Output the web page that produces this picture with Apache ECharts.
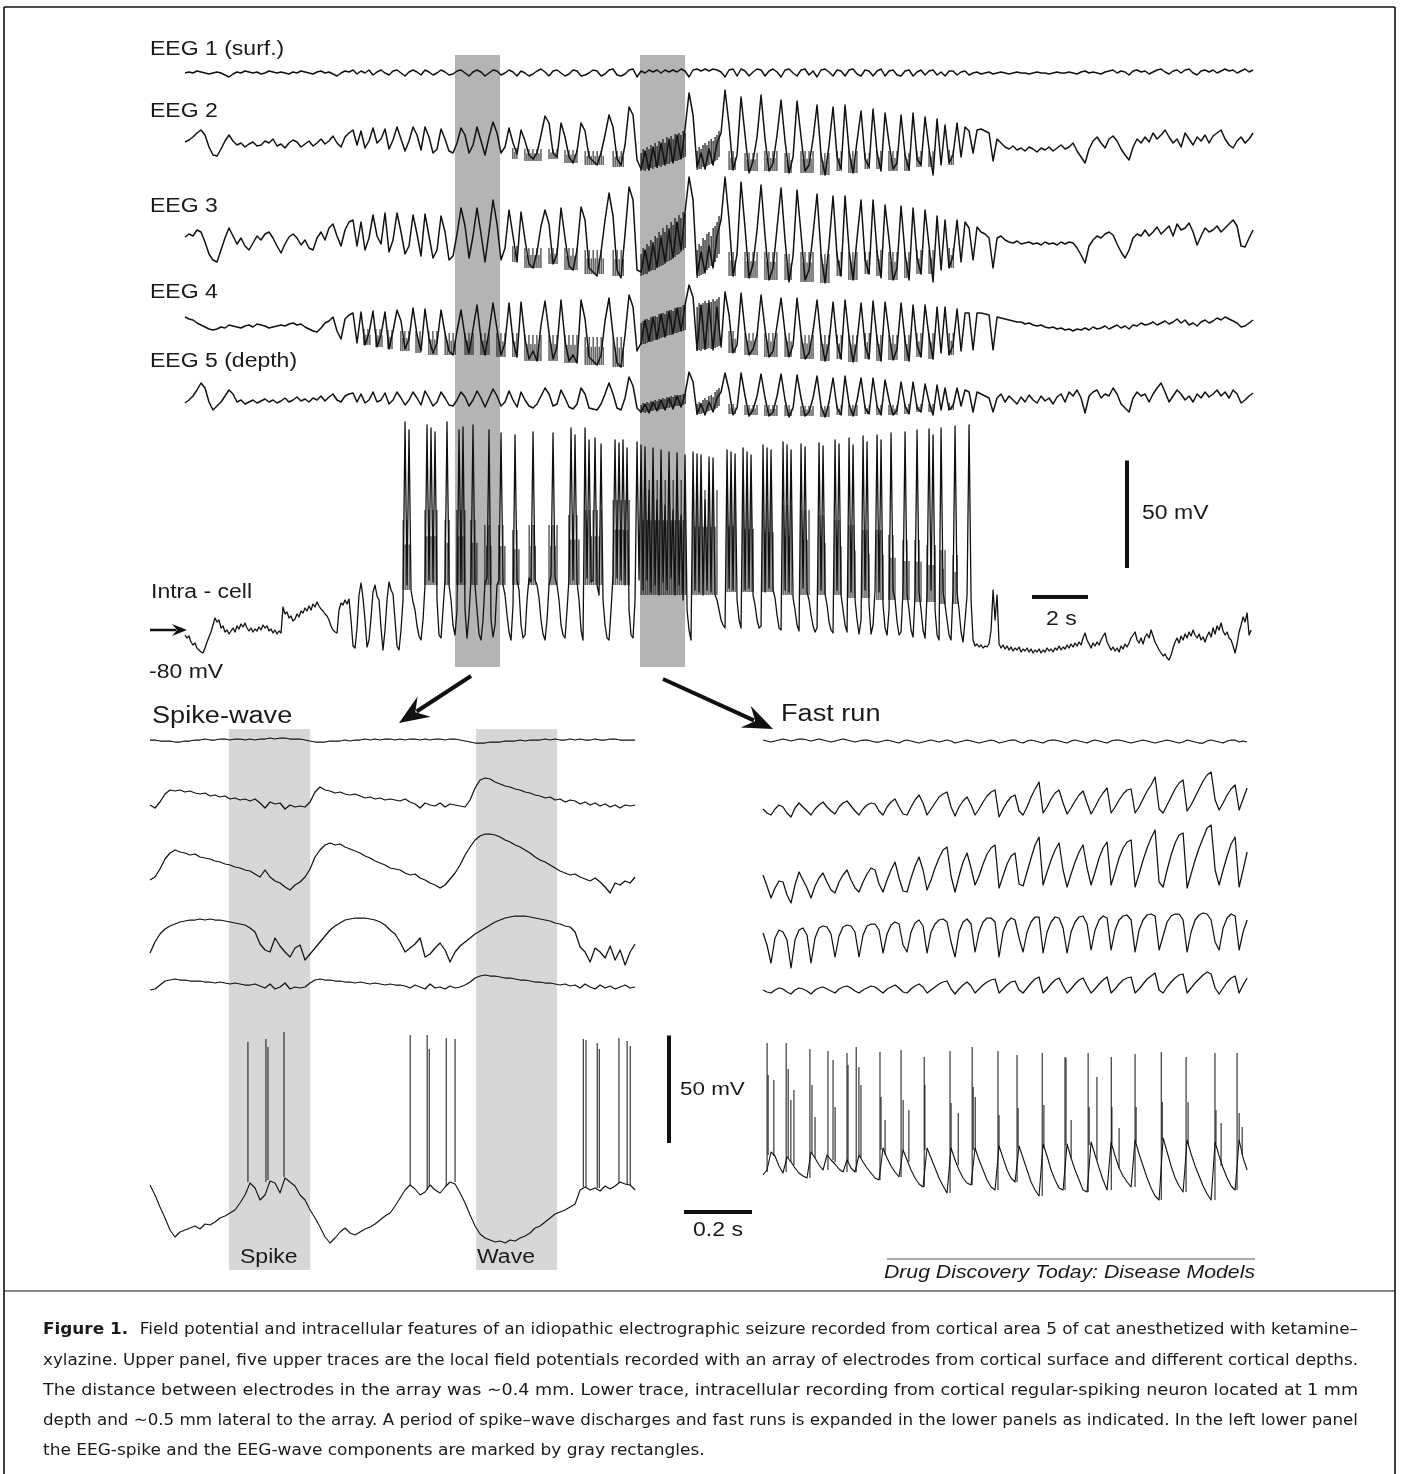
<!DOCTYPE html>
<html>
<head>
<meta charset="utf-8">
<title>Figure 1 – spike-wave and fast-run seizure</title>
<script src="https://cdn.jsdelivr.net/npm/echarts@6/dist/echarts.min.js"></script>
<style>
  html, body { margin: 0; padding: 0; background: #fff; }
  #chart { width: 1402px; height: 1474px; }
</style>
</head>
<body>
<div id="chart"></div>
<script>
// ---------- data ----------
// upper panel: EEG sampled every 1/7 s, intracellular every 1/14 s
const TOP_SPAN = 38.14;           // s across the upper panel
const TOP_EEG_DT = 1 / 7;
const TOP_IC_DT = 1 / 14;
const TOP_BANDS = [[9.64, 11.25], [16.25, 17.86]];   // s, spike-wave and fast-run windows

const eeg1Top = [
  0, 1, 0, 2, 1, 0, -1, 0, 1, 0, -2, -4, -1, 1, 0, 2, 1, 0, 1, -1,
  0, 2, 1, 0, 1, 0, -1, 1, 0, 2, 1, 0, -1, 1, 2, 0, 1, -1, -3, 0,
  2, 1, 3, -1, 2, 0, 3, -2, 1, 3, 0, -2, 2, 3, 0, -3, 1, 3, 1, -2,
  3, 1, -2, 0, 3, 1, -2, -1, 2, 3, 0, -3, 1, 3, 1, -3, 0, 3, 2, -2,
  0, 3, 1, -3, 2, 0, -3, -1, 2, 4, 1, -3, 2, 3, 0, -3, -1, 3, 2, -3,
  -2, 0, 3, 2, -3, -1, 3, 4, -2, -3, -1, 3, 4, -4, 2, 0, 3, 1, 3, 0,
  3, 1, 3, 1, 4, 2, -4, 3, 4, 2, 4, 2, 4, 3, 1, -4, 3, 4, -3, 4,
  2, -3, 1, 4, 3, -3, 2, 4, 1, -4, 3, 4, 0, -3, 3, 4, -2, 2, -4, 3,
  4, 1, -3, 3, 2, -3, 3, 4, -1, -3, 3, 2, -3, 2, 4, -3, 2, 3, -2, -3,
  2, 3, -3, 1, 3, -2, 2, 3, -2, 1, -3, 2, 2, -2, 1, 2, -2, 0, 1, -1,
  0, 1, -1, 0, 1, 0, -1, 0, 1, 0, 0, -1, 0, 1, 0, 0, -1, 0, 1, 0,
  0, 1, 0, -1, 1, 2, 0, 1, 0, -1, 1, 2, 3, 0, 2, 1, -2, 2, 3, 1,
  2, -1, 1, 3, 4, 1, -1, 2, 3, 0, 3, 4, 0, -2, 2, 3, 1, 3, 0, 2,
  4, 2, 3, 0, 2, 4, 1, 3
];
const eeg2Top = [
  3, 5, 8, 12, 15, 10, -2, -10, -11, -4, 4, 10, 4, 0, 2, -2, 1, 3, -1, 0,
  4, 2, 6, -1, 1, -3, 2, 5, 3, -2, 1, 4, -1, 2, 6, 1, 4, 9, 2, -2,
  8, 12, 15, 0, 14, -3, 4, 17, 2, 6, 16, -4, 5, 18, 6, -6, 4, 18, 10, -5,
  18, 8, -8, -4, 16, 6, -6, -8, 2, 17, 10, -8, 0, 18, 4, -10, 8, 23, 12, -8,
  -2, 17, 2, -9, 15, 4, -10, -14, -8, 10, 29, 22, -8, -12, 22, 8, -12, -18, -6, 22,
  14, -12, -16, -20, -8, 10, 30, 18, -14, -20, 0, 38, 30, -15, -24, -6, -25, -2, -22, 2,
  -20, 6, -18, 10, -14, 16, 52, 30, -22, -8, -24, -4, -20, 2, 12, 55, 20, -25, -10, 48,
  10, -28, -16, 8, 50, 6, -26, -18, 10, 45, 4, -28, -12, 44, 8, -26, -20, 6, 40, -10,
  -30, 0, 38, -12, -24, 40, -6, -28, 4, 34, -14, -22, 36, -8, -26, 32, 2, -24, -18, 30,
  -10, -25, 32, -14, -20, 28, -4, -30, 26, -20, 20, -18, -10, 22, -12, 18, 14, -8, 15, 16,
  14, 12, -16, 6, 2, -2, -4, -1, -5, -3, -6, -2, -4, -7, -3, -5, -2, -6, -3, 0,
  -4, -2, 2, -6, -12, -18, -4, 4, 8, 2, -3, 6, 9, 4, -4, -10, -15, -2, 6, 2,
  8, 3, 12, 6, 10, 15, 8, 2, 6, -2, 12, 6, 0, 8, 4, 10, 2, 9, 12, 15,
  6, 0, -3, 4, 8, 2, 6, 12
];
const eeg3Top = [
  3, 6, 4, 10, 8, -2, -14, -20, -22, -10, 2, 12, 4, -4, 2, -6, -10, -3, 4, 0,
  6, 8, 2, -6, -13, -4, 3, 6, 2, -5, 0, -8, -10, 2, 8, 0, 12, 16, 4, -6,
  10, 18, 20, -6, 18, -10, 2, 25, 4, -4, 27, -12, 0, 27, 8, -14, -6, 25, 6, -16,
  26, 4, -18, -10, 24, 8, -20, -16, 6, 32, 14, -18, 4, 32, 6, -22, 8, 40, 16, -20,
  -8, 30, 4, -22, 28, 0, -24, -28, -12, 14, 30, 16, -24, -14, 32, 2, -26, -30, -10, 33,
  20, -28, -32, -36, -12, 20, 47, 24, -30, -38, 6, 53, 40, -30, -32, -10, -30, -4, -27, 2,
  -22, 10, -18, 18, -10, 28, 63, 40, -35, -12, -33, -6, -28, 4, 20, 63, 20, -36, -14, 58,
  12, -38, -24, 10, 55, 4, -40, -28, 12, 52, 0, -42, -16, 50, 6, -40, -30, 6, 46, -14,
  -43, -4, 44, -16, -36, 44, -10, -40, 2, 40, -20, -34, 40, -12, -38, 35, 0, -40, -28, 34,
  -14, -40, 32, -18, -34, 30, -6, -42, 24, -30, 20, -28, -16, 20, -22, 18, 12, -20, 13, 8,
  6, 2, -28, 2, 4, 0, -2, -3, -1, -4, -3, -2, -4, -3, -5, -2, -4, -3, -5, -2,
  -4, -2, -3, -8, -15, -23, -6, 0, 4, 2, 6, 8, 5, -4, -12, -18, -10, 2, 6, 4,
  10, 4, 8, 13, 6, 10, 14, 4, 16, 10, 12, 17, 8, -5, 4, 12, 8, 10, 14, 8,
  12, 16, 20, 14, -6, -7, 2, 10
];
const eeg4Top = [
  8, 6, 5, 2, 0, -2, -4, -5, -4, -2, -3, 0, -1, -2, -3, -1, 0, -2, 1, 0,
  -1, -3, -2, -1, 0, -1, 1, 2, 0, 1, -2, -4, -6, -7, -3, 2, 4, 8, -6, -14,
  6, 10, 12, -18, 13, -20, -8, 14, -22, -10, 13, -24, -6, 15, 4, -24, -14, 17, -10, -26,
  16, -14, -28, -18, 15, -8, -26, -30, -6, 15, -12, -28, -4, 20, -14, -30, -6, 22, -4, -30,
  -18, 22, -16, -32, 23, -14, -34, -26, -36, 0, 24, -8, -34, -22, 25, -16, -36, -30, -38, 25,
  6, -32, -36, -40, -30, 4, 27, -10, -38, -42, -10, 30, 18, -26, -18, 5, -16, 8, -14, 11,
  -12, 14, -9, 17, -6, 20, 40, 28, -25, 20, -24, 22, -25, 18, -22, 33, 10, -28, -20, 32,
  -6, -30, -24, -10, 30, -4, -32, -26, 0, 27, -8, -32, -20, 27, -10, -34, -28, -6, 25, -14,
  -36, -18, 23, -18, -34, 25, -12, -37, -16, 22, -20, -34, 24, -14, -36, 23, -8, -35, -24, 22,
  -16, -36, 20, -20, -32, 20, -12, -34, 18, -28, 18, -30, -20, 16, -26, 12, 12, -25, 12, 12,
  11, 10, -25, 8, 7, 6, 5, 4, 3, 3, 1, 2, 0, -1, 0, -2, -3, -2, -4, -3,
  -5, -4, -6, -4, -5, -3, -5, -2, -4, -3, -1, -4, -2, 0, -3, -1, -4, 0, -1, 2,
  0, 1, 3, 0, 2, 4, 1, 3, 6, 2, 5, 0, 2, -1, 3, 5, 2, 4, 7, 5,
  8, 6, 4, 2, -2, -1, 2, 5
];
const eeg5Top = [
  -3, 0, 4, 10, 17, 12, -2, -10, -6, -2, 4, 10, 6, -2, 0, -4, -2, 0, -3, -1,
  1, -2, 0, -3, -1, 2, -2, 0, 3, -1, 1, -2, 2, 0, 4, -1, 3, 6, 0, -2,
  4, 6, 7, -2, 6, -3, 0, 8, -2, 0, 7, -4, 0, 8, 2, -5, 0, 8, 2, -5,
  9, 2, -6, -2, 8, 2, -5, -6, 0, 8, 3, -6, 0, 9, 2, -7, 2, 11, 4, -6,
  -2, 9, 0, -7, 8, 0, -6, -8, -4, 4, 12, 6, -6, -4, 10, 2, -7, -9, -4, 12,
  6, -8, -9, -10, -4, 6, 17, 6, -8, -10, 2, 23, 14, -8, -12, -4, -13, -2, -11, 0,
  -10, 2, -9, 4, -7, 6, 28, 18, -14, -4, -15, -2, -12, 2, 8, 27, 10, -15, -8, 27,
  4, -16, -10, 4, 26, 2, -16, -12, 4, 26, 0, -17, -8, 25, 2, -16, -12, 2, 24, -6,
  -17, -2, 22, -8, -15, 24, -4, -16, 0, 22, -8, -14, 22, -6, -15, 20, 0, -15, -10, 18,
  -6, -14, 18, -8, -12, 16, -2, -15, 15, -10, 12, -10, -6, 12, -6, 10, 8, -12, 8, 6,
  4, 2, -12, 2, 6, -2, 4, 0, -4, 3, -2, 5, 0, -3, 4, -1, 2, -4, 3, 6,
  -2, 8, 4, 10, 2, -13, 4, 8, 10, 2, 6, 4, 12, 6, -4, -8, -12, 2, 8, 4,
  6, -2, 6, 12, 17, 8, -2, 4, 10, 6, 0, 4, -2, 6, 2, 8, 3, 6, 10, 4,
  8, 2, 10, 6, -3, 0, 4, 7
];
const icTop = [
  5, 2, 4, -2, -5, -3, -8, -10, -12, -13, -8, -2, 3, 8, 15, 22, 18, 20, 12, 14,
  8, 10, 6, 9, 12, 8, 14, 11, 16, 13, 17, 12, 9, 12, 8, 11, 9, 13, 10, 15,
  12, 14, 9, 11, 7, 10, 6, 9, 7, 33, 26, 28, 22, 24, 19, 21, 26, 23, 29, 27,
  32, 29, 34, 30, 36, 33, 38, 34, 31, 29, 26, 24, 20, 14, 10, 8, 7, 30, 37, 35,
  40, 36, 41, 20, -6, -8, 12, 45, 57, 42, 20, -7, 0, 22, 48, 55, 44, 40, 12, -10,
  10, 40, 58, 50, 46, 20, -6, -10,
  10, 40, 218, 55, 210, 50, 38, 30, 14, 4, 0, 20, 55, 215, 60, 212, 58, 208, 40, 5,
  2, 30, 60, 218, 55, 40, 15, 5, 30, 210, 58, 213, 30, 2, 25, 62, 215, 55, 30, 6,
  0, 20, 58, 62, 210, 20, 3, 15, 55, 60, 207, 55, 45, 25, 8, 0, 35, 205, 60, 50,
  15, 2, 5, 40, 62, 58, 208, 60, 55, 42, 20, 6, 0, 20, 55, 65, 207, 62, 55, 40,
  15, 5, 2, 30, 62, 212, 60, 205, 58, 40, 10, 0, 212, 62, 200, 58, 60, 202, 55, 45,
  196, 40, 15, 2, 0, 30, 65, 200, 62, 197, 60, 200, 55, 192, 30, 5, 2, 40, 198, 60,
  195, 50, 193, 60, 150, 48, 192, 55, 140, 45, 190, 58, 135, 50, 188, 62, 130, 45, 187, 55,
  125, 40, 185, 30, 10, 0, 188, 50, 186, 48, 185, 45, 140, 50, 183, 48, 182, 45, 40, 30,
  20, 15, 12, 190, 52, 188, 50, 186, 40, 20, 12, 192, 50, 188, 52, 185, 45, 35, 20, 12,
  14, 195, 48, 192, 52, 190, 50, 42, 25, 12, 10, 198, 50, 195, 48, 190, 42, 30, 15, 9,
  196, 52, 193, 48, 40, 25, 14, 8, 12, 197, 50, 194, 46, 35, 18, 10, 7, 200, 50, 196,
  45, 30, 15, 8, 202, 48, 195, 40, 20, 6, 20, 204, 50, 198, 35, 6, 15, 50, 205, 48,
  200, 35, 12, 5, 30, 207, 50, 40, 18, 5, 8, 50, 208, 46, 30, 10, 3, 45, 210, 48,
  30, 10, 2, 45, 211, 50, 205, 30, 5, 0, 212, 48, 35, 20, 5, 0, 50, 214, 48, 30,
  8, -2, 20, 45, 215, 40, 0, -6, -4, -7, -5, -8, -6, -7, -4, 10, 50, 20, 45, -4,
  -8, -5, -9, -6, -10, -7, -11, -8, -10, -7, -12, -9, -11, -8, -12, -9, -13, -10, -12, -9,
  -13, -10, -12, -8, -11, -9, -12, -8, -10, -6, -10, -7, -9, -5, -8, -4, -7, -3, -6, -2,
  -5, 2, 7, 0, -4, -8, -3, -6, -2, -5, 0, 4, 7, -2, -6, -10, -7, -11, -8, -12,
  -6, -9, -4, -7, -3, 2, 5, 8, 0, -3, 2, -4, 3, 6, 2, 10, 4, -2, -6, -10,
  -13, -16, -14, -18, -20, -15, -8, -2, 2, -3, 4, 0, 6, 2, 8, 4, 10, 5, 2, 6,
  0, 3, -2, 4, 8, 3, 12, 6, 14, 10, 17, 9, 5, 8, 2, 0, -6, -13, -4, 8,
  15, 23, 18, 27, 5, 10
];

// fast-run envelopes in the upper EEG traces: stroke times (s) and low/high per stroke
const FAST_T = [
  16.29, 16.36, 16.43, 16.50, 16.57, 16.64, 16.71, 16.79, 16.86, 16.93, 17.00, 17.07,
  17.14, 17.21, 17.29, 17.36, 17.43, 17.50, 17.57, 17.64, 17.71, 17.79, 17.86,
  18.29, 18.36, 18.43, 18.50, 18.57, 18.64, 18.71, 18.79, 18.86, 18.93, 19.00, 19.07
];
const eeg2FastLo = [-26, -25, -26, -24, -25, -23, -24, -22, -23, -21, -22, -20, -20, -19, -19, -17, -18, -16, -16, -15, -14, -13, -12,
  -25, -24, -24, -22, -23, -21, -20, -19, -18, -16, -15, -12];
const eeg2FastHi = [-8, -4, -6, -2, -4, 0, -3, 2, -1, 4, 1, 6, 2, 8, 4, 9, 6, 11, 8, 12, 10, 14, 12,
  -6, -2, -4, 0, 2, 0, 4, 6, 4, 8, 10, 14];
const eeg3FastLo = [-36, -35, -34, -34, -32, -31, -30, -30, -28, -27, -26, -25, -24, -22, -21, -20, -18, -17, -15, -14, -12, -10, -8,
  -38, -36, -35, -34, -32, -30, -28, -26, -24, -22, -18, -14];
const eeg3FastHi = [-14, -8, -10, -4, -6, 0, -2, 4, 2, 8, 5, 12, 8, 15, 12, 18, 15, 22, 18, 25, 22, 28, 26,
  -10, -4, -6, 2, 0, 6, 8, 4, 12, 14, 18, 24];
const eeg4FastLo = [-20, -19, -19, -18, -17, -17, -16, -15, -15, -14, -13, -12, -12, -11, -10, -10, -9, -8, -8, -7, -6, -6, -5,
  -26, -25, -26, -24, -25, -24, -23, -24, -22, -23, -22, -21];
const eeg4FastHi = [2, 4, 3, 6, 5, 8, 7, 9, 8, 11, 10, 12, 11, 14, 13, 15, 14, 17, 16, 18, 18, 20, 20,
  18, 22, 20, 22, 24, 22, 25, 23, 26, 24, 26, 28];
const eeg5FastLo = [-13, -12, -13, -12, -12, -11, -11, -10, -10, -10, -9, -9, -8, -8, -8, -7, -7, -6, -6, -6, -5, -5, -4,
  -15, -14, -14, -13, -12, -12, -11, -10, -10, -9, -8, -6];
const eeg5FastHi = [-5, -3, -4, -2, -3, -1, -2, 0, -1, 1, 0, 2, 1, 3, 2, 4, 3, 5, 4, 5, 5, 6, 6,
  -4, -2, -3, 0, 2, 0, 4, 5, 3, 8, 10, 12];

// spike bursts riding on the troughs: [start s, end s, low, high]
const eeg2Bursts = [
  [11.71, 11.89, -14, -3], [12.14, 12.71, -16, -4], [13.00, 13.29, -14, -4], [13.57, 14.00, -18, -5],
  [14.29, 15.00, -20, -6], [15.29, 15.71, -22, -6],
  [19.43, 19.71, -25, -6], [20.00, 20.43, -26, -8], [20.71, 21.14, -26, -6], [21.43, 21.71, -28, -8],
  [22.00, 22.43, -28, -6], [22.71, 23.00, -30, -8], [23.29, 23.43, -26, -6], [23.71, 24.00, -28, -6],
  [24.29, 24.43, -24, -8], [24.71, 24.86, -24, -6], [25.14, 25.43, -26, -6], [25.71, 25.86, -26, -8],
  [26.14, 26.29, -22, -6], [26.57, 26.71, -22, -6], [27.29, 27.43, -20, -5]
];
const eeg3Bursts = [
  [11.71, 11.89, -22, -6], [12.14, 12.71, -28, -8], [13.00, 13.29, -24, -8], [13.57, 14.00, -30, -8],
  [14.29, 15.00, -34, -10], [15.29, 15.71, -36, -10],
  [19.43, 19.71, -36, -12], [20.00, 20.43, -38, -12], [20.71, 21.14, -40, -12], [21.43, 21.71, -40, -14],
  [22.00, 22.43, -42, -12], [22.71, 23.00, -43, -14], [23.29, 23.43, -36, -12], [23.71, 24.00, -40, -12],
  [24.29, 24.43, -34, -12], [24.71, 24.86, -36, -10], [25.14, 25.43, -40, -12], [25.71, 25.86, -38, -12],
  [26.14, 26.29, -34, -10], [26.57, 26.71, -34, -10], [27.29, 27.43, -28, -8]
];
const eeg4Bursts = [
  [6.39, 6.61, -20, -4], [6.82, 7.04, -22, -4], [7.25, 7.46, -24, -5], [7.71, 8.00, -26, -6],
  [8.25, 8.46, -28, -6], [8.71, 9.00, -30, -6], [9.29, 9.71, -30, -8], [10.00, 10.29, -30, -8],
  [10.57, 10.86, -30, -8], [11.14, 11.43, -32, -8],
  [11.71, 11.89, -32, -8], [12.14, 12.71, -36, -10], [13.00, 13.29, -36, -10], [13.57, 14.00, -38, -10],
  [14.29, 15.00, -40, -12], [15.29, 15.71, -42, -12],
  [19.43, 19.71, -28, -6], [20.00, 20.43, -30, -8], [20.71, 21.14, -32, -8], [21.43, 21.71, -32, -8],
  [22.00, 22.43, -34, -10], [22.71, 23.00, -36, -10], [23.29, 23.43, -34, -10], [23.71, 24.00, -37, -10],
  [24.29, 24.43, -34, -8], [24.71, 24.86, -36, -10], [25.14, 25.43, -35, -10], [25.71, 25.86, -36, -10],
  [26.14, 26.29, -32, -8], [26.57, 26.71, -34, -8], [27.29, 27.43, -30, -8]
];
const eeg5Bursts = [
  [19.43, 19.71, -14, -4], [20.00, 20.43, -15, -5], [20.71, 21.14, -16, -5], [21.43, 21.71, -16, -5],
  [22.00, 22.43, -16, -6], [22.71, 23.00, -17, -6], [23.29, 23.43, -15, -5], [23.71, 24.00, -16, -5],
  [24.29, 24.43, -14, -5], [24.71, 24.86, -15, -5], [25.14, 25.43, -15, -5], [25.71, 25.86, -14, -4],
  [26.14, 26.29, -12, -4], [26.57, 26.71, -12, -4], [27.29, 27.43, -10, -3]
];
const icBursts = [
  [7.79, 8.07, 50, 120], [8.57, 9.00, 55, 130], [9.29, 9.50, 55, 120], [9.71, 10.00, 55, 130],
  [10.21, 10.43, 55, 120], [10.71, 10.93, 55, 115], [11.21, 11.43, 55, 115], [11.71, 11.93, 55, 110],
  [12.29, 12.57, 55, 115], [13.00, 13.29, 55, 115], [13.71, 14.07, 55, 125], [14.29, 14.86, 55, 130],
  [15.29, 15.86, 55, 140],
  [16.29, 17.86, 45, 160], [18.14, 19.00, 45, 150],
  [19.36, 19.71, 48, 150], [19.93, 20.29, 48, 145], [20.64, 21.00, 48, 140], [21.36, 21.71, 45, 135],
  [22.00, 22.29, 45, 130], [22.64, 22.86, 45, 125], [23.21, 23.43, 45, 120], [23.71, 23.93, 42, 115],
  [24.21, 24.43, 42, 110], [24.71, 24.93, 40, 110], [25.14, 25.36, 40, 105], [25.64, 25.86, 40, 100],
  [26.07, 26.29, 38, 100], [26.50, 26.79, 38, 95], [27.00, 27.21, 36, 90], [27.43, 27.64, 36, 85]
];

// lower panels: 1.432 s each
const BOTTOM_SPAN = 1.432;
const BL_DT = 1 / 68;
const BR_DT = 1 / 85;
const BL_BANDS = [[0.232, 0.471], [0.959, 1.197]];   // EEG-spike, EEG-wave

const swEeg1 = [
  0, 0, -1, -1, -1, -2, -2, -1, -1, 0, 0, 1, 0, 0, 1, 1, 0, 1, 1, 0,
  1, 0, 1, 1, 2, 1, 2, 2, 1, 1, 1, 0, -1, -2, -2, -2, -1, -1, -1, 0,
  -1, 0, 0, 1, 0, 1, 0, 1, 1, 0, 1, 0, 1, 1, 0, 1, 0, 1, 1, 0,
  1, 1, 0, -1, -2, -3, -3, -3, -2, -2, -2, -1, -1, -1, 0, -1, 0, 0, 0, 1,
  0, 1, 0, 0, 1, 0, 1, 0, 0, 1, 0, 0, 1, 1, 0, 0, 0, 0
];
const swEeg2 = [
  -5, -8, -2, 6, 10, 9, 10, 8, 9, 7, 6, 7, 4, 5, 3, 4, 1, 2, 0, 1,
  -1, 1, -3, -8, -2, -4, -3, -9, -5, -7, -6, -7, -2, 8, 13, 10, 9, 7, 8, 6,
  5, 6, 4, 2, 3, 1, 2, 0, 1, 0, -1, 1, -2, -4, -8, -3, -5, -6, -3, -7,
  -4, -5, -6, -7, 0, 12, 20, 22, 21, 18, 16, 14, 13, 11, 10, 8, 7, 5, 4, 2,
  3, 0, 1, -2, 0, -1, -4, -2, -5, -3, -6, -4, -7, -5, -8, -5, -6, -5
];
const swEeg3 = [
  -15, -12, -4, 6, 12, 15, 13, 12, 10, 11, 8, 7, 6, 4, 3, 1, 0, -2, -3, -5,
  -6, -9, -12, -5, -12, -16, -18, -22, -25, -20, -17, -12, -4, 8, 15, 20, 22, 20, 21, 18,
  16, 14, 12, 9, 7, 4, 2, 0, -3, -4, -5, -8, -10, -9, -13, -15, -18, -20, -23, -20,
  -14, -8, 0, 10, 18, 25, 29, 31, 31, 30, 28, 25, 23, 20, 18, 15, 12, 8, 5, 3,
  0, -3, -6, -8, -10, -9, -12, -14, -16, -13, -17, -22, -28, -18, -20, -16, -18, -12
];
const swEeg4 = [
  -13, -2, 6, 11, 14, 16, 18, 19, 20, 20, 21, 20, 21, 20, 20, 19, 18, 17, 16, 15,
  12, 8, -4, -10, -12, 2, -6, -12, -17, -8, -5, -20, -14, -8, -2, 4, 10, 14, 17, 20,
  21, 22, 22, 22, 21, 20, 18, 15, 10, 6, -2, -12, -8, -4, 2, -17, -14, -8, -3, -10,
  -22, -12, -6, -2, 2, 6, 9, 12, 15, 18, 20, 22, 23, 24, 24, 24, 23, 22, 21, 20,
  19, 17, 16, 14, 13, 8, -7, -12, -22, -8, -12, -18, -6, -20, -10, -25, -12, -4
];
const swEeg5 = [
  -5, -4, 0, 4, 5, 6, 5, 5, 4, 4, 4, 3, 3, 2, 3, 2, 1, 2, 1, 0,
  0, 1, -1, -3, 1, -4, -2, 2, -4, -2, -3, -2, 2, 5, 6, 5, 5, 4, 4, 3,
  3, 2, 3, 2, 1, 2, 1, 0, 1, 0, 0, -1, -3, 0, -2, -4, 1, -3, -2, -4,
  -1, -3, -2, 0, 3, 7, 9, 10, 9, 9, 8, 7, 7, 6, 5, 5, 4, 3, 3, 2,
  2, 1, 0, 1, -1, 0, -3, 1, -2, -4, 0, -3, -1, -4, -2, 0, -3, -2
];
const swIc = [
  50, 40, 28, 17, 5, -2, 3, 5, 7, 9, 6, 11, 10, 13, 17, 19, 22, 25, 32, 40,
  52, 47, 35, 40, 54, 52, 42, 57, 53, 49, 40, 35, 25, 17, 8, -2, -8, -3, 3, 7,
  2, 0, 3, 6, 8, 11, 15, 19, 22, 29, 37, 45, 50, 46, 40, 43, 50, 45, 42, 48,
  53, 51, 42, 32, 20, 9, 1, -3, -5, -7, -6, -8, -5, -6, -3, -1, 2, 7, 9, 13,
  17, 21, 23, 25, 28, 31, 45, 48, 45, 47, 44, 49, 46, 49, 53, 51, 50, 45
];
// action potentials: [time s, foot, peak]
const swSpikes = [
  [0.288, 53, 193], [0.341, 53, 196], [0.347, 55, 188], [0.394, 58, 203],
  [0.765, 50, 200], [0.815, 45, 200], [0.821, 48, 186], [0.871, 49, 197], [0.897, 53, 196],
  [1.274, 48, 196], [1.282, 48, 195], [1.315, 47, 192], [1.321, 47, 186],
  [1.379, 52, 197], [1.403, 50, 194], [1.412, 50, 189]
];

const frEeg1 = [
  1, 0, -1, 0, 1, 2, 1, 0, 1, 2, 2, 1, 0, 1, 2, 1, 0, -1, 0, 1,
  2, 1, 0, -1, 0, 1, 1, 0, -1, -1, 0, 1, 0, -1, -2, 0, 1, 0, -1, -2,
  -1, 0, 1, 0, -1, 0, 1, 0, -2, -1, 0, 1, 0, -1, -2, -1, 0, 1, 0, -2,
  -1, 0, 1, 1, -1, -2, 0, 1, 0, -1, -2, 0, 1, 1, 0, -1, -2, 0, 1, 0,
  -1, -2, 0, 1, 0, -1, -2, 0, 1, 1, 0, -1, -2, -1, 0, 1, 0, -1, -2, -1,
  0, 1, 0, -1, -2, -1, 1, 0, -1, -2, -2, 0, 1, 0, -1, -2, 0, 1, 1, -1,
  0, -1
];
const frEeg2 = [
  -4, -8, -10, -4, 0, -2, -8, -12, -3, 2, -2, -6, -10, -4, 0, 3, -2, -6, -9, -2,
  2, 4, -1, -6, -10, -4, 0, 2, 1, -6, -10, -2, 3, 6, -2, -9, -10, -2, 5, 10,
  2, -10, -4, 2, 8, 11, 13, -2, -11, -2, 4, 8, 0, -10, -4, 3, 9, 13, 15, -12,
  -4, 3, 8, 10, -6, -10, -2, 8, 16, 23, -8, -2, 6, 12, 15, 2, -9, -3, 4, 10,
  14, 2, -9, -2, 6, 12, 17, -8, -2, 5, 11, 15, 16, -8, -2, 6, 14, 20, 28, -4,
  -8, 0, 8, 16, 22, 25, -6, 0, 8, 16, 24, 30, 33, 5, -5, 2, 10, 16, 20, -5,
  6, 17
];
const frEeg3 = [
  15, 4, -8, 2, 9, 8, -5, -13, 5, 18, 10, 2, -8, 4, 12, 17, 8, 0, -3, 8,
  15, 20, 10, 2, -2, 8, 16, 22, 20, 6, -2, 10, 20, 28, 12, -1, -2, 12, 24, 33,
  20, 0, 10, 22, 32, 40, 43, 14, -2, 14, 28, 37, 22, 5, 14, 26, 36, 42, 45, 2,
  14, 26, 34, 37, 6, 4, 18, 32, 45, 53, 5, 18, 30, 40, 47, 20, 3, 16, 28, 38,
  45, 22, 5, 18, 32, 42, 48, 5, 18, 32, 42, 48, 50, 3, 16, 30, 42, 52, 60, 8,
  3, 20, 35, 47, 55, 57, 2, 16, 30, 42, 52, 62, 65, 20, 5, 20, 34, 46, 53, 3,
  20, 38
];
const frEeg4 = [
  7, -5, -23, 2, 10, 8, 0, -28, 0, 10, 12, 5, -23, 2, 12, 14, 13, 6, -17, 4,
  13, 15, 14, 8, -17, 5, 14, 16, 16, 10, -13, 6, 15, 18, 16, -5, -12, 8, 17, 20,
  14, -13, 8, 16, 20, 21, 18, -2, -17, 8, 18, 21, 16, -12, 8, 18, 22, 22, 18, -17,
  8, 18, 22, 20, 2, -12, 8, 18, 23, 23, -13, 8, 18, 23, 22, 12, -13, 8, 18, 23,
  24, 16, -10, 10, 20, 24, 22, -10, 10, 20, 24, 25, 20, -12, 10, 20, 25, 26, 24, -10,
  4, 18, 24, 26, 26, 20, -12, 8, 20, 25, 27, 26, 20, -2, -10, 12, 22, 26, 24, -10,
  8, 20
];
const frEeg5 = [
  0, -2, -3, 0, 2, 1, -2, -4, 0, 2, 1, -1, -4, 0, 2, 3, 1, -1, -3, 1,
  3, 4, 2, -1, -3, 0, 2, 4, 3, 0, -3, 1, 3, 5, 2, -2, -3, 1, 4, 6,
  3, -3, 0, 3, 6, 8, 9, 1, -4, 1, 5, 8, 4, -3, 1, 5, 8, 10, 11, -3,
  1, 5, 8, 9, 0, -3, 2, 7, 11, 13, -3, 1, 6, 10, 12, 4, -3, 1, 6, 10,
  12, 4, -3, 1, 6, 10, 13, -3, 1, 6, 10, 12, 13, -3, 1, 6, 11, 14, 17, 0,
  -3, 3, 8, 12, 15, 16, -3, 2, 7, 11, 15, 18, 16, 2, -4, 2, 8, 12, 14, -3,
  5, 12
];
const frIc = [
  25, 30, 48, 44, 34, 27, 43, 38, 32, 27, 24, 22, 48, 42, 35, 30, 45, 40, 36, 31,
  28, 40, 32, 28, 45, 38, 32, 27, 22, 20, 52, 42, 34, 28, 23, 50, 40, 30, 22, 16,
  13, 52, 42, 32, 22, 14, 7, 52, 40, 30, 22, 17, 15, 52, 40, 30, 20, 13, 10, 54,
  42, 30, 22, 18, 54, 42, 30, 18, 10, 4, 56, 44, 30, 20, 12, 10, 56, 42, 30, 20,
  10, 8, 58, 45, 32, 20, 10, 58, 44, 32, 24, 18, 13, 60, 46, 34, 22, 12, 4, 0,
  62, 48, 34, 22, 14, 8, 60, 46, 34, 24, 14, 6, 0, 58, 44, 32, 22, 14, 10, 60,
  42, 30
];
const frSpikes = [
  [0.012, 28, 157], [0.015, 45, 125], [0.032, 44, 120],
  [0.068, 28, 157], [0.074, 42, 131], [0.082, 38, 100], [0.091, 35, 110],
  [0.138, 22, 151], [0.144, 46, 115], [0.153, 42, 83],
  [0.191, 30, 149], [0.206, 40, 140], [0.212, 38, 93],
  [0.247, 28, 147], [0.250, 38, 135],
  [0.274, 28, 153], [0.282, 45, 133], [0.288, 42, 115],
  [0.344, 20, 148], [0.347, 50, 103], [0.359, 45, 80],
  [0.406, 23, 150], [0.412, 48, 100], [0.429, 38, 90],
  [0.474, 13, 143], [0.476, 50, 115],
  [0.550, 7, 149], [0.553, 50, 97], [0.574, 35, 87],
  [0.615, 15, 153], [0.618, 50, 113], [0.624, 50, 103],
  [0.691, 10, 149], [0.694, 52, 85],
  [0.747, 18, 145], [0.750, 52, 92],
  [0.821, 4, 147], [0.826, 52, 95],
  [0.888, 10, 143], [0.891, 55, 142], [0.906, 42, 80],
  [0.956, 8, 147], [0.959, 55, 93], [0.982, 40, 123],
  [1.024, 10, 143], [1.026, 56, 93], [1.047, 32, 72],
  [1.094, 13, 146], [1.097, 58, 93],
  [1.171, 0, 148], [1.174, 60, 98],
  [1.244, 8, 143], [1.250, 56, 98],
  [1.329, 0, 147], [1.332, 56, 90], [1.347, 34, 77],
  [1.394, 10, 147], [1.400, 58, 87], [1.409, 45, 73]
];

const TOP_LABELS = ['EEG 1 (surf.)', 'EEG 2', 'EEG 3', 'EEG 4', 'EEG 5 (depth)'];
const SCALE_TOP = { sec: 2, mv: 50 };
const SCALE_BOTTOM = { sec: 0.2, mv: 50 };
const IC_UNITS_PER_MV = 2.15;    // trace units per mV for the intracellular records

const CAPTION_LEAD = 'Figure 1.';
const CAPTION_LINES = [
  'Field potential and intracellular features of an idiopathic electrographic seizure recorded from cortical area 5 of cat anesthetized with ketamine–',
  'xylazine. Upper panel, five upper traces are the local field potentials recorded with an array of electrodes from cortical surface and different cortical depths.',
  'The distance between electrodes in the array was ∼0.4 mm. Lower trace, intracellular recording from cortical regular-spiking neuron located at 1 mm',
  'depth and ∼0.5 mm lateral to the array. A period of spike–wave discharges and fast runs is expanded in the lower panels as indicated. In the left lower panel',
  'the EEG-spike and the EEG-wave components are marked by gray rectangles.'
];

// ---------- layout ----------
const INK = '#111';
const TOP = { left: 185, width: 1068, span: TOP_SPAN };
const BL = { left: 150, width: 487, span: BOTTOM_SPAN };
const BR = { left: 763, width: 487, span: BOTTOM_SPAN };

const grids = [], xAxes = [], yAxes = [], series = [];

function addGrid(panel, top, height, yMin, yMax) {
  const k = grids.length;
  grids.push({ left: panel.left, width: panel.width, top, height, show: false });
  xAxes.push({ type: 'value', gridIndex: k, min: 0, max: panel.span, show: false });
  yAxes.push({ type: 'value', gridIndex: k, min: yMin, max: yMax, show: false });
  return k;
}

function addTrace(panel, values, dt, base, yMin, yMax, width) {
  const k = addGrid(panel, base - yMax, yMax - yMin, yMin, yMax);
  series.push({
    type: 'line', xAxisIndex: k, yAxisIndex: k, z: 3, silent: true, clip: false,
    symbol: 'none', showSymbol: false,
    data: values.map((v, i) => [i * dt, v]),
    lineStyle: { color: INK, width: width || 1.25, join: 'round' }
  });
  return k;
}

// vertical strokes [t, low, high]
function addSpikes(k, spikes, width) {
  series.push({
    type: 'custom', xAxisIndex: k, yAxisIndex: k, z: 3, silent: true, clip: false,
    data: spikes, encode: { x: 0, y: [1, 2] },
    renderItem: (p, api) => {
      const a = api.coord([api.value(0), api.value(1)]);
      const b = api.coord([api.value(0), api.value(2)]);
      return { type: 'line', shape: { x1: a[0], y1: a[1], x2: b[0], y2: b[1] },
        style: { stroke: INK, lineWidth: width || 1 } };
    }
  });
}
const strokes = (lo, hi) => FAST_T.map((t, i) => [t, lo[i], hi[i]]);

// a burst [t0, t1, low, high] is drawn as a hatch of fine vertical strokes
function addBursts(k, bursts) {
  series.push({
    type: 'custom', xAxisIndex: k, yAxisIndex: k, z: 2, silent: true, clip: false,
    data: bursts, encode: { x: [0, 1], y: [2, 3] },
    renderItem: (p, api) => {
      const a = api.coord([api.value(0), api.value(3)]);
      const b = api.coord([api.value(1), api.value(2)]);
      const children = [];
      for (let x = a[0], n = 0; x <= b[0] + 0.1; x += 2, n++) {
        const top = n % 2 ? a[1] + (b[1] - a[1]) * 0.35 : a[1];
        children.push({ type: 'line', shape: { x1: x, y1: b[1], x2: x, y2: top },
          style: { stroke: INK, lineWidth: 1 } });
      }
      return { type: 'group', children };
    }
  });
}

function addBands(panel, top, height, ranges, color) {
  const k = addGrid(panel, top, height, 0, 1);
  series.push({
    type: 'custom', xAxisIndex: k, yAxisIndex: k, z: 1, silent: true, clip: false,
    data: ranges, encode: { x: [0, 1] },
    renderItem: (p, api) => {
      const a = api.coord([api.value(0), 1]);
      const b = api.coord([api.value(1), 0]);
      return { type: 'rect', shape: { x: a[0], y: a[1], width: b[0] - a[0], height: b[1] - a[1] },
        style: { fill: color } };
    }
  });
}

// upper panel
const TOP_W = 1.5;
addBands(TOP, 55, 612, TOP_BANDS, '#b4b4b4');
addTrace(TOP, eeg1Top, TOP_EEG_DT, 73, -15, 15, TOP_W);
let k = addTrace(TOP, eeg2Top, TOP_EEG_DT, 145, -40, 60, TOP_W);
addSpikes(k, strokes(eeg2FastLo, eeg2FastHi), 1.2);
addBursts(k, eeg2Bursts);
k = addTrace(TOP, eeg3Top, TOP_EEG_DT, 240, -50, 70, TOP_W);
addSpikes(k, strokes(eeg3FastLo, eeg3FastHi), 1.2);
addBursts(k, eeg3Bursts);
k = addTrace(TOP, eeg4Top, TOP_EEG_DT, 325, -45, 45, TOP_W);
addSpikes(k, strokes(eeg4FastLo, eeg4FastHi), 1.2);
addBursts(k, eeg4Bursts);
k = addTrace(TOP, eeg5Top, TOP_EEG_DT, 400, -25, 35, TOP_W);
addSpikes(k, strokes(eeg5FastLo, eeg5FastHi), 1.2);
addBursts(k, eeg5Bursts);
k = addTrace(TOP, icTop, TOP_IC_DT, 640, -30, 230, 1.3);
addBursts(k, icBursts);

// lower left: spike-wave
addBands(BL, 729, 541, BL_BANDS, '#d7d7d7');
addTrace(BL, swEeg1, BL_DT, 740, -10, 10);
addTrace(BL, swEeg2, BL_DT, 800, -15, 30);
addTrace(BL, swEeg3, BL_DT, 865, -35, 40);
addTrace(BL, swEeg4, BL_DT, 940, -30, 30);
addTrace(BL, swEeg5, BL_DT, 985, -10, 15);
addSpikes(addTrace(BL, swIc, BL_DT, 1235, -12, 210, 1.1), swSpikes);

// lower right: fast run
addTrace(BR, frEeg1, BR_DT, 741, -10, 10);
addTrace(BR, frEeg2, BR_DT, 805, -20, 40);
addTrace(BR, frEeg3, BR_DT, 890, -20, 70);
addTrace(BR, frEeg4, BR_DT, 940, -35, 35);
addTrace(BR, frEeg5, BR_DT, 990, -10, 25);
addSpikes(addTrace(BR, frIc, BR_DT, 1200, -12, 165, 1.1), frSpikes);

// ---------- annotations ----------
const g = [];
const SANS = '"Liberation Sans", Arial, Helvetica, sans-serif';
const STRETCH = 1.18;

function text(str, x, y, size, o = {}) {
  const align = o.align || 'left';
  g.push({
    type: 'text', x, y, scaleX: o.scaleX || STRETCH, z: 100, silent: true,
    style: {
      text: str, fill: '#1a1a1a',
      font: (o.italic ? 'italic ' : '') + (o.bold ? 'bold ' : '') + size + 'px ' + (o.family || SANS),
      align, verticalAlign: 'middle', textAlign: align, textVerticalAlign: 'middle'
    }
  });
}
function seg(x1, y1, x2, y2, w, color) {
  g.push({ type: 'line', z: 100, silent: true, shape: { x1, y1, x2, y2 },
    style: { stroke: color || INK, lineWidth: w } });
}
function arrow(x1, y1, x2, y2, w, len, half) {
  const L = Math.hypot(x2 - x1, y2 - y1), dx = (x2 - x1) / L, dy = (y2 - y1) / L;
  const nx = -dy, ny = dx;
  seg(x1, y1, x2 - dx * len * 0.7, y2 - dy * len * 0.7, w);
  g.push({ type: 'polygon', z: 100, silent: true, style: { fill: INK },
    shape: { points: [
      [x2, y2],
      [x2 - dx * len + nx * half, y2 - dy * len + ny * half],
      [x2 - dx * len * 0.65, y2 - dy * len * 0.65],
      [x2 - dx * len - nx * half, y2 - dy * len - ny * half]
    ] } });
}

// frame
seg(4, 7, 1395, 7, 1.6);
seg(4, 7, 4, 1474, 1.6);
seg(1395, 7, 1395, 1474, 1.6);
seg(4, 1291, 1395, 1291, 1.2);

// upper panel labels
[50, 112, 207, 293, 362].forEach((y, n) => text(TOP_LABELS[n], 150, y, 19.5));
text('Intra - cell', 151, 593, 19.5);
text('-80 mV', 149, 673, 19.5);
arrow(150, 630, 187, 630, 2.5, 15, 6);

const topPxPerSec = TOP.width / TOP.span;
const botPxPerSec = BL.width / BL.span;
seg(1127, 568 - SCALE_TOP.mv * IC_UNITS_PER_MV, 1127, 568, 4);
text(SCALE_TOP.mv + ' mV', 1142, 514, 19.5);
seg(1032, 597, 1032 + SCALE_TOP.sec * topPxPerSec, 597, 4);
text(SCALE_TOP.sec + ' s', 1046, 620, 19.5);

// arrows to the expanded panels
arrow(471, 676, 399, 723, 4, 30, 12);
arrow(663, 679, 773, 729, 4, 30, 12);

// lower panels
text('Spike-wave', 152, 717, 23);
text('Fast run', 781, 715, 23);
text('Spike', 240, 1258, 19.5);
text('Wave', 477, 1258, 19.5);
seg(669, 1143 - SCALE_BOTTOM.mv * IC_UNITS_PER_MV, 669, 1143, 4);
text(SCALE_BOTTOM.mv + ' mV', 680, 1090, 19);
seg(684, 1212, 684 + SCALE_BOTTOM.sec * botPxPerSec, 1212, 4);
text(SCALE_BOTTOM.sec + ' s', 693, 1231, 19.5);

seg(887, 1259, 1255, 1259, 1, '#555');
text('Drug Discovery Today: Disease Models', 1255, 1273, 18, { italic: true, align: 'right' });

// caption, justified to the figure width
const CAP_FAMILY = '"DejaVu Sans Condensed", "Liberation Sans Narrow", "DejaVu Sans", sans-serif';
const CAP_SIZE = 16.5;
const capFont = CAP_SIZE + 'px ' + CAP_FAMILY;
const capBold = 'bold ' + capFont;
const ctx = document.createElement('canvas').getContext('2d');
const measure = (s, f) => { ctx.font = f; return ctx.measureText(s).width; };
const capLeft = 43, capRight = 1358, capY = [1330, 1361, 1391, 1421, 1451];
const scales = [];
CAPTION_LINES.forEach((line, n) => {
  const lead = n === 0 ? CAPTION_LEAD + '  ' : '';
  const wLead = lead ? measure(lead, capBold) : 0;
  let s = (capRight - capLeft) / (wLead + measure(line, capFont));
  if (n === CAPTION_LINES.length - 1) s = scales.reduce((a, b) => a + b, 0) / scales.length;
  scales.push(s);
  if (lead) text(lead, capLeft, capY[n], CAP_SIZE, { bold: true, family: CAP_FAMILY, scaleX: s });
  text(line, capLeft + wLead * s, capY[n], CAP_SIZE, { family: CAP_FAMILY, scaleX: s });
});

const chart = echarts.init(document.getElementById('chart'));
chart.setOption({
  animation: false,
  backgroundColor: '#fff',
  grid: grids,
  xAxis: xAxes,
  yAxis: yAxes,
  series,
  graphic: { elements: g }
});
window.addEventListener('resize', () => chart.resize());
</script>
</body>
</html>
